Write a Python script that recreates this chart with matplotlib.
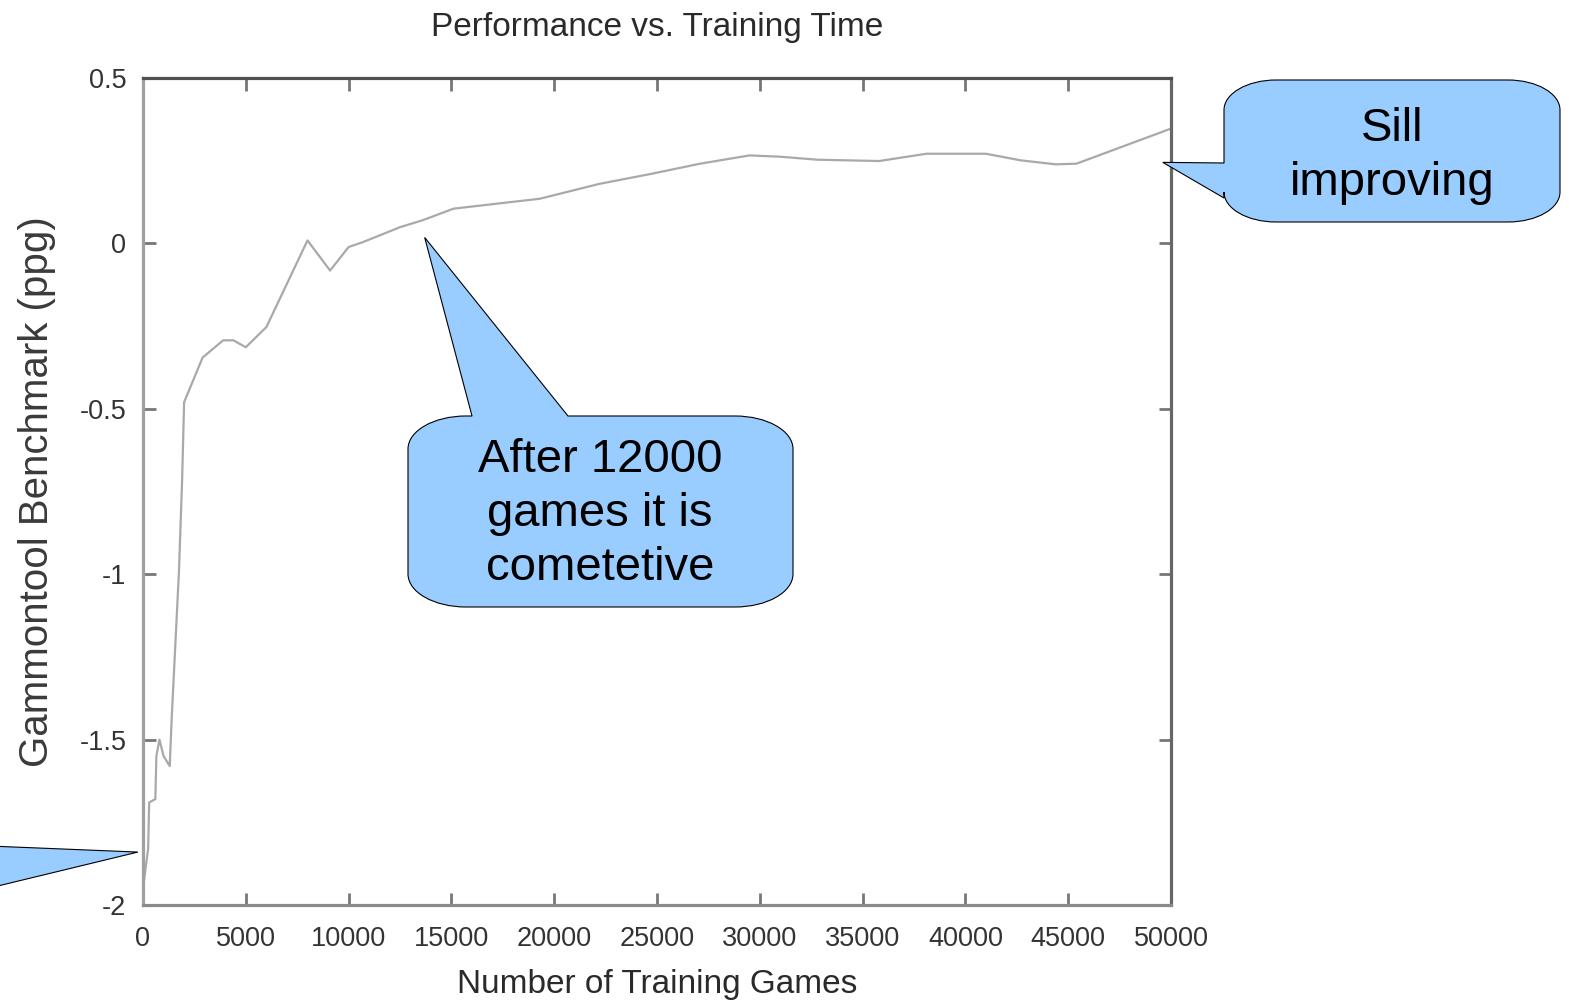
import numpy as np
import matplotlib
matplotlib.use("Agg")
import matplotlib.pyplot as plt
from matplotlib.path import Path
from matplotlib.patches import PathPatch
from matplotlib.transforms import Affine2D

# values
games = [0, 250, 300, 600, 650, 800, 1000, 1300, 1400, 1750, 1900, 2000,
         2200, 2900, 3900, 4400, 5000, 6000, 8000, 9100, 10000, 10700,
         12500, 13600, 15100, 16500, 19300, 22200, 24700, 27100, 29500,
         31000, 32800, 35800, 38100, 41000, 42700, 44400, 45400, 50000]
benchmark = [-1.95, -1.83, -1.69, -1.68, -1.55, -1.50, -1.55, -1.58, -1.43,
             -0.99, -0.72, -0.48, -0.45, -0.345, -0.293, -0.293, -0.314,
             -0.253, 0.009, -0.082, -0.011, 0.004, 0.049, 0.07, 0.105, 0.115,
             0.135, 0.18, 0.21, 0.241, 0.266, 0.262, 0.253, 0.249, 0.271,
             0.271, 0.251, 0.239, 0.241, 0.347]

xticks = list(range(0, 50001, 5000))
yticks = [-2, -1.5, -1, -0.5, 0, 0.5]
ytick_labels = ["-2", "-1.5", "-1", "-0.5", "0", "0.5"]

W, H = 1569, 1005
sans = ["Liberation Sans", "DejaVu Sans"]

fig = plt.figure(figsize=(W / 100, H / 100), dpi=100)
ax = fig.add_axes([143 / W, 1 - 905 / H, (1171 - 143) / W, (905 - 78) / H])

ax.plot(games, benchmark, color="#a9a9a9", lw=1.6)
ax.set_xlim(0, 50000)
ax.set_ylim(-2, 0.5)
ax.set_xticks(xticks)
ax.set_xticklabels([str(t) for t in xticks], family=sans, fontsize=19.5, color="#333333")
ax.set_yticks(yticks)
ax.set_yticklabels(ytick_labels, family=sans, fontsize=19.5, color="#333333")
ax.tick_params(direction="in", top=True, right=True, length=9, width=2,
               color="#777777")
ax.tick_params(axis="x", pad=15)
ax.tick_params(axis="y", pad=12)

for side, col in [("left", "#a0a0a0"), ("bottom", "#8a8a8a"),
                  ("top", "#505050"), ("right", "#666666")]:
    ax.spines[side].set_color(col)
    ax.spines[side].set_linewidth(2.3)

ax.set_title("Performance vs. Training Time", family=sans, fontsize=24,
             color="#2a2a2a", pad=30)
ax.set_xlabel("Number of Training Games", family=sans, fontsize=24,
              color="#2a2a2a", labelpad=12)
ax.set_ylabel("Gammontool Benchmark (ppg)", family=sans, fontsize=29,
              color="#3a3a3a", labelpad=17)

# pixel coords (y down) -> figure
pix = Affine2D().scale(1 / W, -1 / H).translate(0, 1) + fig.transFigure


def to_pix(x, y):
    dx, dy = ax.transData.transform((x, y))
    return dx, H - dy


def callout(box, side, base, tip, rx=58, ry=33):
    x0, y0, x1, y1 = box
    k = 0.5523
    a, b = base
    v, c = [], []

    def mv(p):
        v.append(p); c.append(Path.MOVETO)

    def ln(p):
        v.append(p); c.append(Path.LINETO)

    def cv(p1, p2, p3):
        v.extend([p1, p2, p3]); c.extend([Path.CURVE4] * 3)

    mv((x0 + rx, y0))
    if side == "top":
        ln((a, y0)); ln(tip); ln((b, y0))
    ln((x1 - rx, y0))
    cv((x1 - rx + k * rx, y0), (x1, y0 + ry - k * ry), (x1, y0 + ry))
    if side == "right":
        ln((x1, a)); ln(tip); ln((x1, b))
    ln((x1, y1 - ry))
    cv((x1, y1 - ry + k * ry), (x1 - rx + k * rx, y1), (x1 - rx, y1))
    ln((x0 + rx, y1))
    cv((x0 + rx - k * rx, y1), (x0, y1 - ry + k * ry), (x0, y1 - ry))
    if side == "left":
        ln((x0, b)); ln(tip); ln((x0, a))
    ln((x0, y0 + ry))
    cv((x0, y0 + ry - k * ry), (x0 + rx - k * rx, y0), (x0 + rx, y0))
    v.append((x0 + rx, y0)); c.append(Path.CLOSEPOLY)
    patch = PathPatch(Path(v, c), transform=pix, facecolor="#99ccff",
                      edgecolor="black", lw=0.8, clip_on=False)
    fig.add_artist(patch)


callout((-450, 780, -60, 960), "right", (844, 900), to_pix(-250, -1.84))
callout((408, 416, 793, 607), "top", (472, 568), to_pix(13700, 0.018))
callout((1224, 80, 1560, 222), "left", (163, 198), to_pix(49600, 0.245),
        rx=52, ry=30)

fig.text(600 / W, 1 - 514 / H, "After 12000\ngames it is\ncometetive",
         family=sans, fontsize=34, ha="center", va="center", color="black",
         linespacing=1.3)
fig.text(1392 / W, 1 - 156 / H, "Sill\nimproving",
         family=sans, fontsize=34, ha="center", va="center", color="black",
         linespacing=1.3)

fig.savefig("out.png", dpi=100)
